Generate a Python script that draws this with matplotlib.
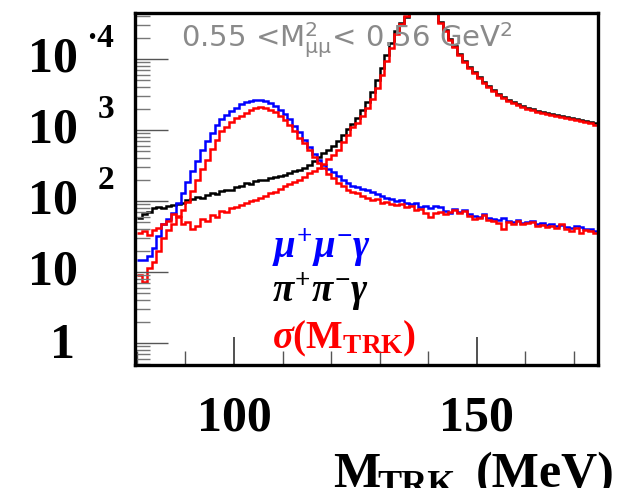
import numpy as np
import matplotlib
matplotlib.use('Agg')
import matplotlib.pyplot as plt
from matplotlib.ticker import MultipleLocator, LogLocator, NullFormatter

# bin edges in MeV (1 MeV bins)
edges = np.arange(80, 176)

# mu+ mu- gamma (blue)
mumu = [15, 15, 17, 22, 32, 47, 56, 68, 94, 130,
        185, 265, 366, 523, 700, 908, 1180, 1430, 1630, 1850,
        2040, 2320, 2480, 2560, 2650, 2650, 2560, 2400, 2180, 1910,
        1680, 1430, 1140, 940, 723, 576, 459, 378, 322, 282,
        256, 225, 198, 179, 163, 158, 148, 143, 134, 126,
        118, 110, 107, 100, 103, 94, 91, 94, 82, 85,
        80, 85, 82, 72, 68, 77, 70, 75, 66, 62,
        60, 66, 58, 56, 54, 58, 52, 51, 54, 49,
        51, 52, 47, 49, 46, 47, 44, 46, 43, 42,
        44, 43, 40, 40, 38]

# pi+ pi- gamma (black)
pipi = [58, 66, 70, 80, 82, 80, 85, 88, 91, 94,
        103, 107, 114, 110, 122, 130, 126, 138, 143, 143,
        158, 163, 179, 174, 191, 198, 198, 211, 218, 225,
        232, 248, 265, 273, 292, 322, 366, 417, 474, 523,
        595, 700, 851, 1033, 1215, 1476, 1910, 2480, 3430, 5060,
        7470, 11390, 16800, 24800, 32150, 39050, 45930, 55800, 63530, 63530,
        55800, 44460, 33210, 25620, 19130, 15250, 11760, 9380, 7720, 6560,
        5580, 4740, 4170, 3660, 3220, 2920, 2650, 2480, 2320, 2180,
        2040, 1980, 1850, 1790, 1740, 1680, 1630, 1580, 1530, 1480,
        1430, 1380, 1340, 1300, 1260]

# sigma(M_TRK) variations (red)
mumu_sig = [9.1, 7.2, 11.4, 13.8, 20, 30, 39, 47, 62, 75,
            97, 138, 198, 282, 378, 540, 723, 969, 1100, 1300,
            1480, 1580, 1740, 1910, 2040, 2110, 2040, 1910, 1790, 1580,
            1380, 1180, 970, 772, 656, 523, 417, 343, 292, 240,
            211, 179, 163, 143, 134, 130, 118, 110, 103, 107,
            94, 97, 91, 88, 91, 82, 85, 75, 77, 68,
            60, 68, 70, 66, 70, 75, 68, 72, 62, 56,
            58, 64, 54, 52, 49, 40, 51, 47, 52, 47,
            49, 51, 44, 46, 43, 44, 42, 47, 40, 38,
            42, 35, 39, 38, 35]

pipi_sig = [35, 38, 33, 39, 42, 47, 52, 66, 60, 47,
            51, 40, 44, 56, 52, 64, 60, 72, 70, 80,
            82, 88, 94, 100, 103, 110, 118, 130, 134, 148,
            163, 174, 185, 198, 218, 248, 265, 292, 332, 390,
            445, 523, 678, 851, 1100, 1255, 1575, 2040, 2730, 3900,
            5950, 9380, 14290, 22500, 31120, 40340, 47440, 55800, 63530, 63530,
            54020, 44460, 32150, 24800, 18520, 14760, 11390, 9080, 7470, 6350,
            5400, 4590, 4030, 3540, 3110, 2820, 2560, 2400, 2250, 2110,
            1980, 1910, 1790, 1740, 1680, 1630, 1580, 1530, 1480, 1430,
            1380, 1340, 1300, 1260, 1180]

plt.rcParams['mathtext.fontset'] = 'custom'
plt.rcParams['mathtext.rm'] = 'Liberation Serif:bold'
plt.rcParams['mathtext.it'] = 'Liberation Serif:italic:bold'
plt.rcParams['mathtext.bf'] = 'Liberation Serif:bold'
plt.rcParams['mathtext.sf'] = 'DejaVu Sans'

W, H = 621, 488
fig = plt.figure(figsize=(W / 100, H / 100), dpi=100)
ax = fig.add_axes([0.2174, 0.252, 0.7456, 0.7213])

ax.stairs(pipi, edges, color='black', lw=1.8, baseline=None)
ax.stairs(mumu, edges, color='blue', lw=1.8, baseline=None)
ax.stairs(mumu_sig, edges, color='red', lw=1.8, baseline=None)
ax.stairs(pipi_sig, edges, color='red', lw=1.8, baseline=None)

ax.set_yscale('log')
ax.set_xlim(79.6, 175)
ax.set_ylim(0.49, 44500)

for s in ax.spines.values():
    s.set_linewidth(2.4)

# x axis
ax.set_xticks([100, 150])
ax.set_xticklabels(['100', '150'], fontsize=36, fontweight='bold', family='Liberation Serif')
ax.xaxis.set_minor_locator(MultipleLocator(10))
ax.tick_params(axis='x', which='major', direction='in', length=20, width=1.2, pad=22, color='#333')
ax.tick_params(axis='x', which='minor', direction='in', length=10, width=1.0, color='#555')

# y axis, labels drawn by hand below
ax.set_yticks([1, 10, 100, 1000, 10000])
ax.set_yticklabels([])
ax.yaxis.set_minor_locator(LogLocator(base=10, subs=np.arange(2, 10)))
ax.yaxis.set_minor_formatter(NullFormatter())
ax.tick_params(axis='y', which='major', direction='in', length=24, width=1.0, color='#555')
ax.tick_params(axis='y', which='minor', direction='in', length=11, width=1.0, color='#777')

ytr = ax.get_yaxis_transform()
lab_font = dict(fontsize=36, fontweight='bold', family='Liberation Serif')
ax.annotate('1', xy=(0, 1), xycoords=ytr, xytext=(-43, -2), textcoords='offset points',
            ha='right', va='center', **lab_font)
for dec, exp, dx in [(10, '', 0), (100, '2', -27), (1000, '3', -27), (10000, '\u00b74', -35)]:
    ax.annotate('10', xy=(0, dec), xycoords=ytr, xytext=(-41, 0), textcoords='offset points',
                ha='right', va='center', **lab_font)
    if exp:
        ax.annotate(exp, xy=(0, dec), xycoords=ytr, xytext=(dx, 15), textcoords='offset points',
                    ha='left', va='center', fontsize=24, fontweight='bold', family='Liberation Serif')

# mass window label
ax.text(0.10, 0.903, r'0.55 <M$^{\mathsf{2}}_{\mathsf{\mu\mu}}$< 0.56 GeV$^{\mathsf{2}}$',
        transform=ax.transAxes, fontsize=21, color='#8a8a8a', family='DejaVu Sans',
        va='baseline', zorder=1)

# legend text
ax.text(0.296, 0.304, r'$\mu^{+}\mu^{-}\gamma$', color='blue', fontsize=28,
        transform=ax.transAxes, va='baseline')
ax.text(0.296, 0.179, r'$\pi^{+}\pi^{-}\gamma$', color='black', fontsize=28,
        transform=ax.transAxes, va='baseline')
ax.text(0.296, 0.048, r'$\sigma(\mathrm{M_{TRK}})$', color='red', fontsize=28,
        transform=ax.transAxes, va='baseline')

# axis title: M_TRK (MeV)
serif_b = dict(fontweight='bold', family='Liberation Serif', va='baseline')
fig.text(333 / W, 1.0 / H, 'M', ha='left', fontsize=36, **serif_b)
fig.text(377 / W, -7.0 / H, 'TRK', ha='left', fontsize=26, **serif_b)
fig.text(615 / W, 1.0 / H, '(MeV)', ha='right', fontsize=36, **serif_b)

fig.savefig('out.png', dpi=100)
